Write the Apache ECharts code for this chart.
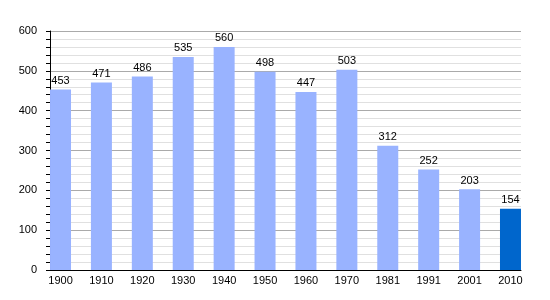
<!DOCTYPE html>
<html><head><meta charset="utf-8">
<script src="https://cdn.jsdelivr.net/npm/echarts@6/dist/echarts.min.js"></script>
<style>html,body{margin:0;padding:0;background:#fff}#c{width:550px;height:300px}</style>
</head><body><div id="c"></div>
<script>
const years = ['1900','1910','1920','1930','1940','1950','1960','1970','1981','1991','2001','2010'];
const population = [453,471,486,535,560,498,447,503,312,252,203,154];
const yTicks = [0,100,200,300,400,500,600];
const lightColor = '#99b3ff';
const lastColor = '#0066cc';

const chart = echarts.init(document.getElementById('c'), null, {renderer:'canvas'});
const idx = years.map((_, i) => i);
chart.setOption({
  animation: false,
  textStyle: {fontFamily: 'Liberation Sans, Arial, sans-serif'},
  grid: {left: 50, right: 29, top: 31, bottom: 30},
  xAxis: {
    type: 'value', min: -0.257, max: 11.257,
    axisLine: {show: true, onZero: false, lineStyle: {color: '#000', width: 1}},
    axisTick: {show: false},
    splitLine: {show: false},
    axisLabel: {customValues: idx, formatter: v => years[Math.round(v)], color: '#000', fontSize: 11, margin: 5}
  },
  yAxis: {
    type: 'value', min: 0, max: 600, interval: 100,
    axisLine: {show: true, onZero: false, lineStyle: {color: '#000', width: 1}},
    axisTick: {show: true, length: 4, lineStyle: {color: '#000'}},
    minorTick: {show: true, splitNumber: 5, length: 4, lineStyle: {color: '#000'}},
    splitLine: {show: true, lineStyle: {color: '#aaa', width: 1}},
    minorSplitLine: {show: true, lineStyle: {color: '#e0e0e0', width: 1}},
    axisLabel: {color: '#000', fontSize: 11, margin: 13, customValues: yTicks}
  },
  series: [{
    type: 'bar',
    barWidth: 21,
    data: population.map((v, i) => ({value: [i, v], itemStyle: {color: i === population.length - 1 ? lastColor : lightColor}})),
    label: {show: true, position: 'top', distance: 3, color: '#000', fontSize: 11, formatter: p => p.value[1]}
  }]
});
</script></body></html>
